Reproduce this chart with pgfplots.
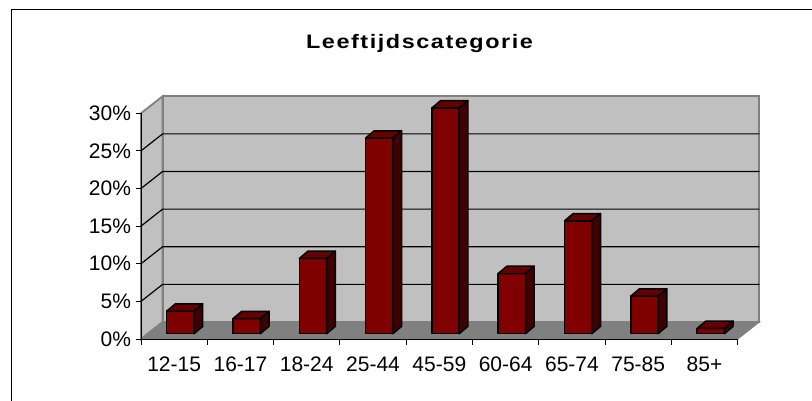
\documentclass[border=0pt]{standalone}
\usepackage{fontspec}
\setmainfont{Liberation Sans}
\newfontfamily\titlefont[FakeStretch=1.2, LetterSpace=8]{Liberation Sans}
\usepackage{pgfplots}
\pgfplotsset{compat=1.18}
\usepackage{pgfplotstable}
\definecolor{barfront}{RGB}{128,0,0}
\definecolor{bartop}{RGB}{100,0,0}
\definecolor{barside}{RGB}{64,0,0}
\definecolor{wall}{RGB}{192,192,192}
\definecolor{floorc}{RGB}{128,128,128}
\definecolor{edge}{RGB}{128,128,128}
\pgfdeclareplotmark{none3d}{}
\pgfplotstableread{
pos share
0.5 3
1.5 2
2.5 10
3.5 26
4.5 30
5.5 8
6.5 15
7.5 5
8.5 0.7
}\agedata
\begin{document}
\begin{tikzpicture}
\path[use as bounding box] (0pt,0pt) rectangle (812pt,400pt);
\draw[black, line width=1pt] (11pt,-10pt) -- (11pt,390.7pt) -- (830pt,390.7pt);
\node[anchor=base, font=\titlefont\bfseries\fontsize{19.5}{23}\selectfont] at (419.5pt,351.7pt) {Leeftijdscategorie};
\begin{axis}[
  at={(141pt,61pt)}, anchor=south west,
  x=66.3pt, y=7.525pt,
  xmin=0, xmax=9, ymin=0, ymax=30,
  clip=false, axis on top,
  axis lines*=left,
  axis line style={black, line width=1pt, -},
  tick align=outside,
  major tick length=5.5pt,
  tick style={black, line width=1pt},
  xtick={0,...,9},
  x tick label as interval,
  xticklabels={12-15,16-17,18-24,25-44,45-59,60-64,65-74,75-85,85+},
  ytick={0,5,...,30},
  yticklabels={0\%,5\%,10\%,15\%,20\%,25\%,30\%},
  ticklabel style={font=\fontsize{21}{25}\selectfont},
  xticklabel style={yshift=-9pt},
  yticklabel style={xshift=-1pt},
]
% back wall, left wall, floor
\addplot[fill=wall, draw=edge, line width=1.8pt] coordinates {(0.326,2.26) (9.326,2.26) (9.326,32.26) (0.326,32.26)} -- cycle;
\addplot[fill=wall, draw=edge, line width=1.8pt] coordinates {(0,0) (0.326,2.26) (0.326,32.26) (0,30)} -- cycle;
\addplot[fill=floorc, draw=edge, line width=1pt] coordinates {(0,0) (9,0) (9.326,2.26) (0.326,2.26)} -- cycle;
% gridlines
\addplot[black, line width=1.2pt] coordinates {(0,5) (0.326,7.26) (9.326,7.26)};
\addplot[black, line width=1.2pt] coordinates {(0,10) (0.326,12.26) (9.326,12.26)};
\addplot[black, line width=1.2pt] coordinates {(0,15) (0.326,17.26) (9.326,17.26)};
\addplot[black, line width=1.2pt] coordinates {(0,20) (0.326,22.26) (9.326,22.26)};
\addplot[black, line width=1.2pt] coordinates {(0,25) (0.326,27.26) (9.326,27.26)};
% 3D bars: each drawn at its data point (front, top and side faces)
\addplot[only marks, mark=none3d, scatter, point meta=\thisrow{share},
  visualization depends on={\thisrow{share} \as \rawh},
  scatter/@pre marker code/.code={%
    \pgfmathsetmacro{\hh}{\rawh*7.525}%
    \filldraw[fill=barfront, draw=black, line width=1.5pt, line join=round]
      (-7.45pt,{5.3pt-\hh pt}) rectangle (19.85pt,5.3pt);
    \filldraw[fill=bartop, draw=black, line width=1.5pt, line join=round]
      (-7.45pt,5.3pt) -- (19.85pt,5.3pt) -- (28.55pt,12.6pt) -- (1.25pt,12.6pt) -- cycle;
    \filldraw[fill=barside, draw=black, line width=1.5pt, line join=round]
      (19.85pt,5.3pt) -- (28.55pt,12.6pt) -- (28.55pt,{12.6pt-\hh pt}) -- (19.85pt,{5.3pt-\hh pt}) -- cycle;
  },
  scatter/@post marker code/.code={},
] table[x=pos, y=share] {\agedata};
\end{axis}
\end{tikzpicture}
\end{document}
